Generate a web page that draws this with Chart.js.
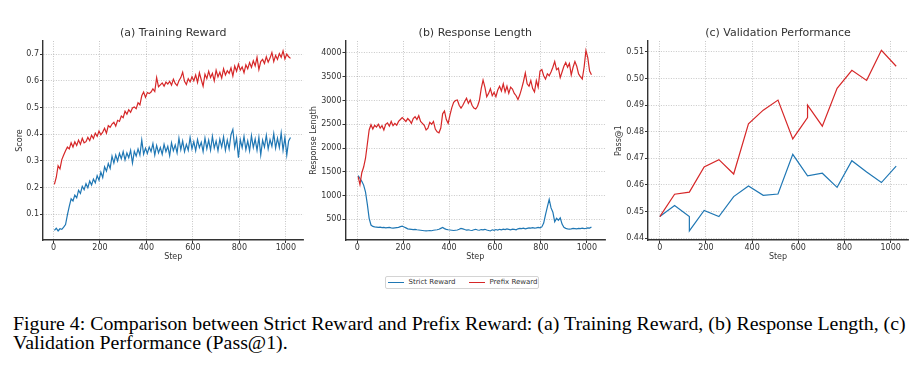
<!DOCTYPE html>
<html>
<head>
<meta charset="utf-8">
<script src="https://cdn.jsdelivr.net/npm/chart.js@4.4.1/dist/chart.umd.min.js"></script>
<style>
html,body{margin:0;padding:0;background:#fff;width:922px;height:383px;overflow:hidden;}
.pane{position:absolute;top:0;}
#legend{position:absolute;left:385px;top:276px;width:152px;height:11px;border:1px solid #d4d4d4;border-radius:2px;font-family:"DejaVu Sans";font-size:7px;color:#333;}
#legend .ln{position:absolute;top:5px;width:16px;height:0;border-top:1.2px solid;}
#legend .tx{position:absolute;top:1px;line-height:9px;white-space:nowrap;}
.cap{position:absolute;left:13px;font-family:"Liberation Serif";color:#000;white-space:nowrap;transform-origin:0 0;}
</style>
</head>
<body>
<canvas id="ca" class="pane" style="left:0px" width="304" height="262"></canvas>
<canvas id="cb" class="pane" style="left:304px" width="302" height="262"></canvas>
<canvas id="cc" class="pane" style="left:606px" width="316" height="262"></canvas>
<div id="legend">
  <div class="ln" style="left:2px;border-color:#1f77b4"></div><div class="tx" id="lg0" style="left:22.5px"></div>
  <div class="ln" style="left:83px;border-color:#d62728"></div><div class="tx" id="lg1" style="left:103.5px"></div>
</div>
<div class="cap" id="cap0"></div>
<div class="cap" id="cap1"></div>
<script>
// ---------------- data ----------------
const seriesNames = ["Strict Reward", "Prefix Reward"];
const panelTitles = ["(a) Training Reward", "(b) Response Length", "(c) Validation Performance"];
const yLabels = ["Score", "Response Length", "Pass@1"];
const xLabel = "Step";
const captionLines = [
  "Figure 4: Comparison between Strict Reward and Prefix Reward: (a) Training Reward, (b) Response Length, (c)",
  "Validation Performance (Pass@1)."
];
const xTicks = [0, 200, 400, 600, 800, 1000];
const yTicksA = [0.1, 0.2, 0.3, 0.4, 0.5, 0.6, 0.7];
const yTicksB = [500, 1000, 1500, 2000, 2500, 3000, 3500, 4000];
const yTicksC = [0.44, 0.45, 0.46, 0.47, 0.48, 0.49, 0.50, 0.51];

const steps = [4,12,20,28,36,44,52,60,68,76,84,92,100,108,116,124,132,140,148,156,164,172,180,188,196,204,212,220,228,236,244,252,260,268,276,284,292,300,308,316,324,332,340,348,356,364,372,380,388,396,404,412,420,428,436,444,452,460,468,476,484,492,500,508,516,524,532,540,548,556,564,572,580,588,596,604,612,620,628,636,644,652,660,668,676,684,692,700,708,716,724,732,740,748,756,764,772,780,788,796,804,812,820,828,836,844,852,860,868,876,884,892,900,908,916,924,932,940,948,956,964,972,980,988,996,1004,1012,1020];

const rewardStrict = [0.040,0.048,0.038,0.046,0.044,0.052,0.062,0.098,0.130,0.158,0.150,0.172,0.162,0.190,0.178,0.205,0.192,0.215,0.200,0.225,0.210,0.232,0.218,0.245,0.228,0.258,0.238,0.278,0.262,0.290,0.272,0.318,0.292,0.322,0.300,0.328,0.308,0.335,0.304,0.330,0.312,0.340,0.292,0.336,0.318,0.345,0.322,0.378,0.325,0.348,0.328,0.352,0.335,0.365,0.322,0.358,0.330,0.350,0.325,0.362,0.335,0.355,0.320,0.368,0.338,0.360,0.330,0.385,0.342,0.375,0.335,0.362,0.340,0.388,0.345,0.372,0.338,0.380,0.350,0.370,0.335,0.385,0.345,0.378,0.340,0.392,0.348,0.375,0.338,0.382,0.352,0.390,0.340,0.378,0.345,0.398,0.418,0.350,0.385,0.312,0.380,0.350,0.392,0.342,0.375,0.338,0.395,0.350,0.382,0.340,0.388,0.322,0.378,0.352,0.396,0.345,0.380,0.355,0.402,0.348,0.385,0.350,0.405,0.340,0.388,0.322,0.375,0.388];

const rewardPrefix = [0.212,0.238,0.282,0.270,0.305,0.322,0.338,0.352,0.345,0.368,0.352,0.372,0.358,0.378,0.362,0.385,0.368,0.372,0.388,0.376,0.396,0.384,0.404,0.392,0.412,0.398,0.408,0.422,0.404,0.432,0.426,0.438,0.445,0.430,0.452,0.448,0.468,0.462,0.486,0.475,0.492,0.482,0.498,0.502,0.496,0.518,0.510,0.544,0.558,0.538,0.556,0.552,0.558,0.570,0.560,0.612,0.578,0.585,0.592,0.580,0.595,0.588,0.598,0.584,0.606,0.590,0.582,0.600,0.612,0.632,0.598,0.586,0.608,0.596,0.615,0.600,0.622,0.594,0.630,0.604,0.580,0.625,0.608,0.636,0.612,0.628,0.600,0.640,0.615,0.632,0.610,0.645,0.622,0.638,0.628,0.648,0.618,0.655,0.636,0.662,0.640,0.652,0.630,0.660,0.645,0.668,0.650,0.675,0.656,0.688,0.642,0.672,0.680,0.665,0.690,0.670,0.685,0.706,0.672,0.695,0.680,0.702,0.688,0.712,0.682,0.700,0.690,0.684];

const lengthStrict = [1420,1360,1300,1220,1080,820,520,380,350,340,335,330,335,325,330,320,325,330,320,315,320,325,330,345,355,340,320,300,295,290,285,290,280,275,270,265,260,255,260,265,260,270,275,280,290,310,330,305,290,280,275,270,265,270,275,290,310,300,285,275,280,270,265,280,290,275,270,285,280,290,275,265,255,280,270,285,275,290,280,295,285,300,290,280,295,290,280,300,310,305,315,300,310,320,315,325,315,320,330,320,340,420,600,760,920,740,650,450,520,480,530,400,330,310,300,295,300,310,305,300,310,305,315,305,310,320,315,340];

const lengthPrefix = [1400,1230,1480,1600,1780,2080,2380,2490,2400,2480,2440,2500,2420,2470,2380,2500,2530,2460,2560,2470,2520,2480,2560,2600,2640,2600,2560,2620,2580,2520,2620,2660,2600,2680,2560,2520,2480,2380,2420,2540,2500,2560,2400,2340,2320,2420,2720,2780,2600,2520,2700,2850,2960,3000,3010,2900,2840,2900,2980,3050,2940,3010,2900,2840,2820,2880,3000,3250,3430,3280,3080,3150,3250,3100,3170,3080,3220,3300,3200,3350,3180,3300,3150,3280,3240,3150,3100,3020,3120,3250,3400,3580,3350,3300,3420,3250,3180,3420,3280,3620,3650,3520,3450,3560,3520,3600,3700,3820,3650,3680,3480,3600,3720,3800,3700,3780,3540,3700,3820,3720,3560,3500,3450,3700,4050,3900,3620,3540];

const valStepsStrict = [0,64,128,128,192,256,320,384,448,512,576,640,704,768,832,896,960,1024];
const valStrict = [0.4481,0.4523,0.4481,0.4427,0.4504,0.4481,0.4556,0.4596,0.4561,0.4566,0.4715,0.4634,0.4644,0.4591,0.4691,0.4649,0.4609,0.4671];
const valStepsPrefix = [0,64,128,192,256,320,384,448,512,576,640,640,704,768,832,896,960,1024];
const valPrefix = [0.4481,0.4565,0.4573,0.4668,0.4695,0.4641,0.4830,0.4881,0.4919,0.4773,0.4853,0.4900,0.4821,0.4963,0.5031,0.4993,0.5106,0.5046];

// ---------------- styling ----------------
const FONT = "DejaVu Sans";
const TXT = "#333333";
const BLUE = "#1f77b4", RED = "#d62728";
const GRID = "rgba(0,0,0,0.28)";

Chart.defaults.font.family = FONT;

function pts(xs, ys) { return xs.map((x, i) => ({x: x, y: ys[i]})); }

function makeChart(id, o) {
  const tickFont = {family: FONT, size: 8};
  const lblFont = {family: FONT, size: 8};
  return new Chart(document.getElementById(id), {
    type: 'line',
    data: {
      datasets: [
        {label: seriesNames[1], data: o.red, borderColor: RED, borderWidth: 1.2, pointRadius: 0, tension: 0, fill: false},
        {label: seriesNames[0], data: o.blue, borderColor: BLUE, borderWidth: 1.2, pointRadius: 0, tension: 0, fill: false}
      ]
    },
    options: {
      responsive: false, animation: false, parsing: true,
      layout: {padding: {left: 0, right: o.padRight, top: 0, bottom: 0}},
      plugins: {
        legend: {display: false}, tooltip: {enabled: false},
        title: {display: true, text: o.title, fullSize: false, color: TXT,
                font: {family: FONT, size: 11, weight: 'normal'}, padding: {top: 27, bottom: 0.8}}
      },
      scales: {
        x: {
          type: 'linear', min: o.xMin, max: o.xMax,
          afterBuildTicks: s => { s.ticks = xTicks.map(v => ({value: v})); },
          afterFit: s => { s.height = 22; },
          ticks: {font: tickFont, color: TXT, padding: 0.5, maxRotation: 0, autoSkip: false, callback: v => String(v)},
          grid: {color: GRID, lineWidth: 0.8, tickColor: TXT, tickLength: 3, tickWidth: 1, tickBorderDash: []},
          border: {color: TXT, width: 1.4, dash: [1, 1.5]},
          title: {display: true, text: xLabel, font: lblFont, color: TXT, padding: {top: 0, bottom: 0}}
        },
        y: {
          type: 'linear', min: o.yMin, max: o.yMax,
          afterBuildTicks: s => { s.ticks = o.yTicks.map(v => ({value: v})); },
          afterFit: s => { s.width = o.yW; },
          ticks: {font: tickFont, color: TXT, padding: 1, autoSkip: false, callback: o.fmt},
          grid: {color: GRID, lineWidth: 0.8, tickColor: TXT, tickLength: 3, tickWidth: 1, tickBorderDash: []},
          border: {color: TXT, width: 1.4, dash: [1, 1.5]},
          title: {display: true, text: o.yLabel, font: lblFont, color: TXT, padding: {top: o.yTitlePad, bottom: 0}}
        }
      }
    }
  });
}

makeChart('ca', {
  title: panelTitles[0], yLabel: yLabels[0],
  red: pts(steps, rewardPrefix), blue: pts(steps, rewardStrict),
  xMin: -45, xMax: 1076, yMin: 0.004, yMax: 0.749, yTicks: yTicksA,
  fmt: v => Number(v).toFixed(1), yW: 43, yTitlePad: 15.2, padRight: 0.5
});
makeChart('cb', {
  title: panelTitles[1], yLabel: yLabels[1],
  red: pts(steps, lengthPrefix), blue: pts(steps, lengthStrict),
  xMin: -51, xMax: 1079, yMin: 65, yMax: 4252, yTicks: yTicksB,
  fmt: v => String(v), yW: 41.5, yTitlePad: 5.2, padRight: 1
});
makeChart('cc', {
  title: panelTitles[2], yLabel: yLabels[2],
  red: pts(valStepsPrefix, valPrefix), blue: pts(valStepsStrict, valStrict),
  xMin: -51.2, xMax: 1075.2, yMin: 0.4393, yMax: 0.5141, yTicks: yTicksC,
  fmt: v => Number(v).toFixed(2), yW: 42, yTitlePad: 8.2, padRight: 14
});

// legend text
document.getElementById('lg0').textContent = seriesNames[0];
document.getElementById('lg1').textContent = seriesNames[1];

// caption: Times-like face, horizontally fitted to the reference line width
(function () {
  const size = 18.5;
  const ctx = document.createElement('canvas').getContext('2d');
  ctx.font = size + 'px "Liberation Serif"';
  const w = ctx.measureText(captionLines[0]).width;
  const sx = 893 / w;
  const c0 = document.getElementById('cap0'), c1 = document.getElementById('cap1');
  c0.textContent = captionLines[0]; c1.textContent = captionLines[1];
  [c0, c1].forEach(el => { el.style.fontSize = size + 'px'; el.style.lineHeight = '19px'; el.style.transform = 'scaleX(' + sx + ')'; });
  c0.style.top = '315px';
  c1.style.top = '334px';
})();
</script>
</body>
</html>
